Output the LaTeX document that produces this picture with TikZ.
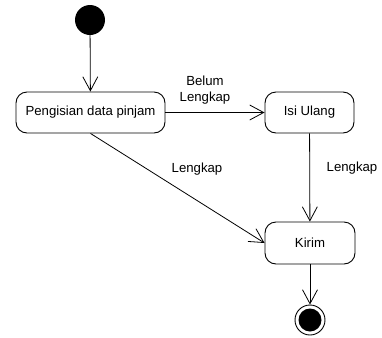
\documentclass[tikz,border=0pt]{standalone}
\usepackage{fontspec}
\setmainfont{Liberation Sans}
\usetikzlibrary{arrows.meta}
\begin{document}
\begin{tikzpicture}[x=1bp,y=-1bp,
  state/.style={draw, line width=0.9bp, rounded corners=11bp, minimum height=41bp, inner sep=0pt, font=\fontsize{13.2bp}{15bp}\selectfont},
  flow/.style={draw, line width=0.8bp, -{Straight Barb[length=14bp,width=15bp,line width=0.8bp]}},
  lbl/.style={font=\fontsize{13.2bp}{15.5bp}\selectfont, align=center, inner sep=0pt}]
  \useasboundingbox (0,0) rectangle (382,338);
  % initial and final states
  \node[circle, fill=black, minimum size=30bp, inner sep=0pt] (start) at (90,20) {};
  \node[circle, draw, line width=0.9bp, minimum size=30bp, inner sep=0pt] (stop) at (310,320) {};
  \node[circle, fill=black, minimum size=23bp, inner sep=0pt] (stopdot) at (310,320) {};
  % activities
  \node[state, minimum width=149bp] (isi) at (90.5,112.5) {Pengisian data pinjam};
  \node[state, minimum width=89bp] (ulang) at (309.5,112.5) {Isi Ulang};
  \node[state, minimum width=90bp, minimum height=42bp] (kirim) at (310,243) {Kirim};
  % transitions
  \draw[flow] (start) -- (isi);
  \draw[flow] (isi) -- (ulang);
  \draw[flow] (isi.south) -- (kirim.west);
  \draw[flow] (ulang) -- (kirim);
  \draw[flow] (kirim) -- (stop);
  % guards
  \node[lbl] (g1) at (205,90) {Belum\\Lengkap};
  \node[lbl] (g2) at (197,169) {Lengkap};
  \node[lbl] (g3) at (352,168) {Lengkap};
\end{tikzpicture}
\end{document}
